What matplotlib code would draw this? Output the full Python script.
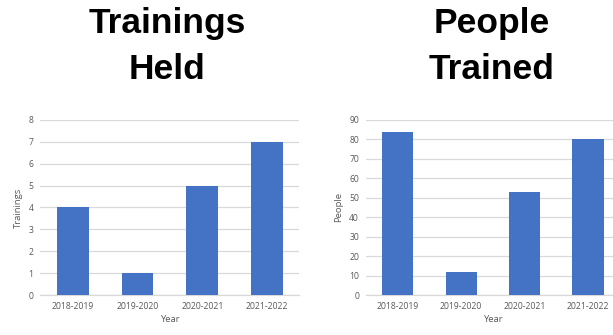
import numpy as np
import matplotlib
matplotlib.use("Agg")
import matplotlib.pyplot as plt

years = ["2018-2019", "2019-2020", "2020-2021", "2021-2022"]
trainings = [4, 1, 5, 7]
people = [84, 12, 53, 80]

bar_color = "#4472C4"
grid_color = "#D9D9D9"
text_color = "#595959"

plt.rcParams["font.family"] = ["Open Sans", "DejaVu Sans"]

fig = plt.figure(figsize=(6.13, 3.35), dpi=100)


def bar_panel(rect, values, ymax, step, ylabel):
    ax = fig.add_axes(rect)
    x = np.arange(len(years))
    ax.bar(x, values, width=0.49, color=bar_color, zorder=3)
    ax.set_xlim(-0.5, len(years) - 0.5)
    ax.set_ylim(0, ymax)
    ax.set_yticks(np.arange(0, ymax + step, step))
    ax.set_xticks(x)
    ax.set_xticklabels(years)
    ax.grid(axis="y", color=grid_color, linewidth=0.9, zorder=0)
    for s in ["top", "right", "left"]:
        ax.spines[s].set_visible(False)
    ax.spines["bottom"].set_color(grid_color)
    ax.spines["bottom"].set_linewidth(0.9)
    ax.tick_params(length=0, labelsize=6.2, colors=text_color, pad=5)
    ax.set_ylabel(ylabel, fontsize=6.8, color=text_color, labelpad=4)
    ax.set_xlabel("Year", fontsize=6.8, color=text_color, labelpad=3)
    return ax


bar_panel([0.066, 0.1194, 0.4225, 0.5224], trainings, 8, 1, "Trainings")
bar_panel([0.597, 0.1194, 0.414, 0.5224], people, 90, 10, "People")

# two-line bold headings above each panel
title_style = dict(ha="center", va="baseline", fontsize=25.5,
                   fontweight="bold", family="Liberation Sans")
for xc, lines in [(0.2724, ("Trainings", "Held")),
                  (0.8026, ("People", "Trained"))]:
    fig.text(xc, 0.9015, lines[0], **title_style)
    fig.text(xc, 0.764, lines[1], **title_style)

fig.savefig("out.png", dpi=100)
